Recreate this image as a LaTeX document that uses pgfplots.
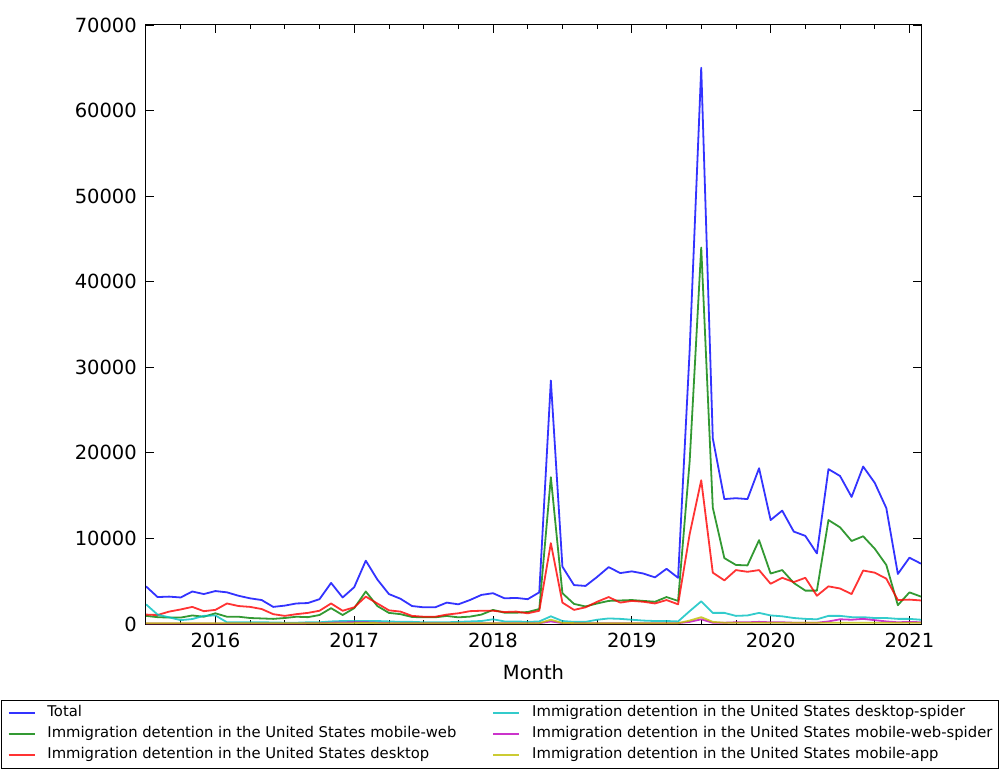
\documentclass[border=0pt]{standalone}
\usepackage{pgfplots}
\pgfplotsset{compat=1.18}
\usepackage{fontspec}
\setmainfont{DejaVu Sans}
\definecolor{mb}{rgb}{0,0,1}
\definecolor{mg}{rgb}{0,0.5,0}
\definecolor{mr}{rgb}{1,0,0}
\definecolor{mc}{rgb}{0,0.75,0.75}
\definecolor{mm}{rgb}{0.75,0,0.75}
\definecolor{my}{rgb}{0.75,0.75,0}
\begin{document}
\begin{tikzpicture}
\useasboundingbox (-146pt,-150pt) rectangle (857pt,624pt);
\begin{axis}[
  scale only axis, width=775pt, height=599pt,
  at={(0pt,0pt)}, anchor=south west,
  xmin=0, xmax=67, ymin=0, ymax=70000,
  xtick={6,18,30,42,54,66},
  xticklabels={2016,2017,2018,2019,2020,2021},
  minor xtick={3,9,12,15,21,24,27,33,36,39,45,48,51,57,60,63},
  ytick={0,10000,20000,30000,40000,50000,60000,70000},
  scaled y ticks=false,
  /pgf/number format/assume math mode=true,
  /pgf/number format/1000 sep={},
  tick align=inside,
  major tick length=8pt, minor tick length=4pt,
  xtick pos=both, ytick pos=both,
  axis line style={line width=1pt},
  every tick/.style={black, line width=0.8pt},
  tick label style={font=\fontsize{19.5}{23}\selectfont, inner sep=0pt},
  yticklabel style={anchor=east, xshift=-9pt},
  xticklabel style={anchor=north, yshift=-9pt},
  xlabel={Month},
  xlabel style={font=\fontsize{19.5}{23}\selectfont, inner sep=0pt, at={(axis description cs:0.5,0)}, anchor=north, yshift=-40pt},
  every axis plot/.append style={line width=1.8pt, opacity=0.8, line join=round},
  legend columns=3, transpose legend,
  legend cell align=left,
  legend image code/.code={\draw[#1, line width=1.8pt] (0pt,0pt) -- (26pt,0pt);},
  legend style={at={(axis description cs:0.4568,-0.127)}, anchor=north,
    draw=black, line width=0.8pt, font=\fontsize{14.8}{17}\selectfont,
    inner xsep=6pt, inner ysep=5.5pt, row sep=6.5pt,
    nodes={inner xsep=0pt, inner ysep=0pt, text height=11pt, text depth=3.5pt},
    /tikz/every even column/.append style={column sep=36pt},
    /tikz/every odd column/.append style={column sep=12pt}},
]
\addplot[mb] table {
x y
0 4400
1 3150
2 3200
3 3100
4 3800
5 3500
6 3850
7 3700
8 3300
9 3000
10 2800
11 2000
12 2150
13 2400
14 2450
15 2900
16 4800
17 3100
18 4300
19 7400
20 5200
21 3500
22 2950
23 2100
24 1950
25 1950
26 2500
27 2300
28 2800
29 3400
30 3600
31 3000
32 3050
33 2900
34 3700
35 28450
36 6700
37 4550
38 4450
39 5500
40 6650
41 5950
42 6150
43 5900
44 5450
45 6450
46 5400
47 32000
48 65000
49 21700
50 14600
51 14700
52 14600
53 18200
54 12150
55 13250
56 10800
57 10300
58 8250
59 18100
60 17300
61 14850
62 18400
63 16500
64 13550
65 5850
66 7750
67 7050
};
\addlegendentry{Total}
\addplot[mg] table {
x y
0 950
1 800
2 750
3 750
4 1000
5 850
6 1250
7 850
8 850
9 700
10 650
11 600
12 700
13 850
14 800
15 1050
16 1850
17 1050
18 1850
19 3800
20 2100
21 1300
22 1150
23 820
24 780
25 780
26 940
27 780
28 860
29 1100
30 1650
31 1320
32 1320
33 1400
34 1750
35 17150
36 3600
37 2350
38 2050
39 2400
40 2700
41 2750
42 2800
43 2700
44 2600
45 3150
46 2700
47 19000
48 44000
49 13600
50 7700
51 6900
52 6850
53 9800
54 5900
55 6300
56 4800
57 3900
58 3900
59 12150
60 11300
61 9700
62 10250
63 8800
64 6900
65 2200
66 3700
67 3200
};
\addlegendentry{Immigration detention in the United States mobile-web}
\addplot[mr] table {
x y
0 1100
1 1050
2 1450
3 1700
4 2000
5 1500
6 1650
7 2400
8 2100
9 2000
10 1750
11 1150
12 950
13 1150
14 1300
15 1550
16 2400
17 1550
18 1950
19 3200
20 2400
21 1600
22 1450
23 950
24 850
25 850
26 1100
27 1250
28 1500
29 1550
30 1550
31 1400
32 1450
33 1250
34 1550
35 9450
36 2500
37 1650
38 1950
39 2600
40 3150
41 2500
42 2700
43 2600
44 2400
45 2800
46 2300
47 10500
48 16800
49 6000
50 5100
51 6300
52 6100
53 6300
54 4700
55 5400
56 4900
57 5400
58 3300
59 4400
60 4150
61 3500
62 6250
63 6000
64 5300
65 2800
66 2850
67 2750
};
\addlegendentry{Immigration detention in the United States desktop}
\addplot[mc] table {
x y
0 2300
1 1100
2 780
3 450
4 580
5 950
6 1000
7 200
8 200
9 200
10 200
11 180
12 150
13 150
14 200
15 200
16 300
17 350
18 350
19 350
20 350
21 300
22 250
23 250
24 200
25 200
26 200
27 250
28 300
29 350
30 550
31 300
32 300
33 250
34 300
35 900
36 350
37 250
38 250
39 500
40 650
41 600
42 500
43 400
44 350
45 350
46 300
47 1500
48 2650
49 1300
50 1300
51 950
52 1000
53 1300
54 1000
55 900
56 700
57 600
58 550
59 950
60 950
61 800
62 800
63 700
64 700
65 600
66 600
67 500
};
\addlegendentry{Immigration detention in the United States desktop-spider}
\addplot[mm] table {
x y
0 60
1 60
2 60
3 60
4 60
5 60
6 60
7 60
8 60
9 60
10 60
11 60
12 60
13 60
14 80
15 100
16 150
17 180
18 200
19 200
20 150
21 100
22 80
23 80
24 80
25 80
26 80
27 80
28 80
29 80
30 100
31 80
32 80
33 80
34 100
35 300
36 100
37 80
38 80
39 80
40 100
41 100
42 100
43 100
44 100
45 100
46 100
47 250
48 550
49 150
50 150
51 200
52 200
53 250
54 200
55 200
56 150
57 150
58 150
59 300
60 550
61 500
62 600
63 450
64 300
65 200
66 250
67 200
};
\addlegendentry{Immigration detention in the United States mobile-web-spider}
\addplot[my] table {
x y
0 80
1 80
2 80
3 80
4 80
5 80
6 80
7 80
8 80
9 80
10 80
11 80
12 80
13 80
14 80
15 80
16 100
17 100
18 100
19 120
20 100
21 80
22 80
23 80
24 80
25 80
26 80
27 80
28 80
29 80
30 80
31 80
32 80
33 80
34 100
35 500
36 120
37 100
38 100
39 100
40 100
41 100
42 100
43 100
44 100
45 100
46 100
47 400
48 800
49 250
50 150
51 150
52 150
53 150
54 150
55 150
56 150
57 150
58 150
59 150
60 150
61 150
62 150
63 150
64 150
65 150
66 150
67 150
};
\addlegendentry{Immigration detention in the United States mobile-app}
\end{axis}
\end{tikzpicture}
\end{document}
